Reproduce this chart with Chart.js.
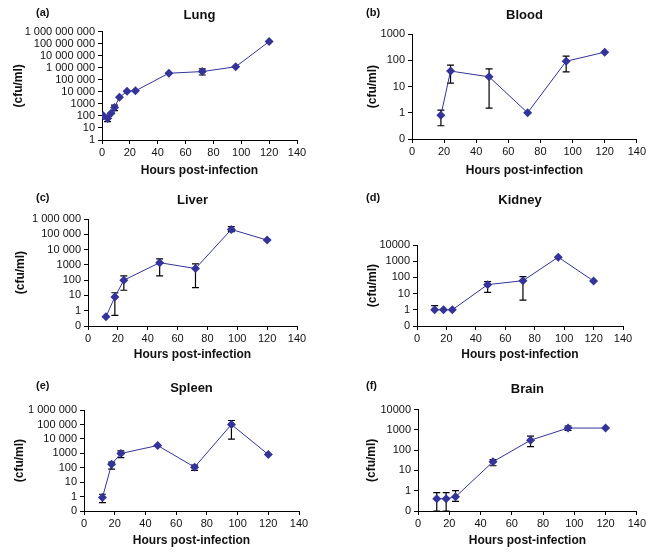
<!DOCTYPE html>
<html>
<head>
<meta charset="utf-8">
<script src="https://cdn.jsdelivr.net/npm/chart.js@4"></script>
<style>
  html, body { margin: 0; padding: 0; background: #fff; }
  #wrap { position: relative; width: 648px; height: 552px; overflow: hidden; }
  #wrap canvas { position: absolute; }
  .tag { position: absolute; font: bold 11px 'Liberation Sans', Arial, sans-serif; color: #111; line-height: 13px; }
</style>
</head>
<body>
<div id="wrap">
  <canvas id="lung"   width="324" height="180" style="left:0;top:0"></canvas>
  <canvas id="blood"  width="324" height="180" style="left:324px;top:0"></canvas>
  <canvas id="liver"  width="324" height="185" style="left:0;top:180px"></canvas>
  <canvas id="kidney" width="324" height="185" style="left:324px;top:180px"></canvas>
  <canvas id="spleen" width="324" height="187" style="left:0;top:365px"></canvas>
  <canvas id="brain"  width="324" height="187" style="left:324px;top:365px"></canvas>
  <div class="tag" style="left:36px;top:6px">(a)</div>
  <div class="tag" style="left:366px;top:6px">(b)</div>
  <div class="tag" style="left:36px;top:191px">(c)</div>
  <div class="tag" style="left:366px;top:191px">(d)</div>
  <div class="tag" style="left:36px;top:379px">(e)</div>
  <div class="tag" style="left:366px;top:379px">(f)</div>
</div>
<script>
// ---- data ----
const hourTicks = [0, 20, 40, 60, 80, 100, 120, 140];

const lungHours = [1, 4, 6.5, 9, 12.5, 18, 24, 48, 72, 96, 120];
const lungCfu   = [105, 60, 165, 490, 3500, 11000, 12000, 350000, 480000, 1200000, 150000000];
const lungLow   = [null, 33, null, 280, null, null, null, null, 250000, null, null];
const lungHigh  = [null, 110, null, 800, null, null, null, null, 800000, null, null];
const lungTicks = [1, 10, 100, 1000, 1e4, 1e5, 1e6, 1e7, 1e8, 1e9];
const lungTickLabels = ['1', '10', '100', '1000', '10 000', '100 000', '1 000 000',
                        '10 000 000', '100 000 000', '1 000 000 000'];

const bloodHours = [18, 24, 48, 72, 96, 120];
const bloodCfu   = [0.8, 39, 23.5, 1, 92, 205];
const bloodLow   = [0.32, 13.5, 1.5, null, 36, null];
const bloodHigh  = [1.27, 66, 47, null, 145, null];
const bloodTicks = [0.1, 1, 10, 100, 1000];
const bloodTickLabels = ['0', '1', '10', '100', '1000'];

const liverHours = [12, 18, 24, 48, 72, 96, 120];
const liverCfu   = [0.4, 8, 100, 1400, 580, 210000, 42000];
const liverLow   = [null, 0.5, 22, 190, 33, 150000, null];
const liverHigh  = [null, 15, 190, 2500, 1170, 320000, null];

const kidneyHours = [12, 18, 24, 48, 72, 96, 120];
const kidneyCfu   = [1, 1, 1, 36, 63, 1800, 60];
const kidneyLow   = [null, null, null, 12, 4, null, null];
const kidneyHigh  = [1.8, null, null, 55, 112, null, null];

const spleenHours = [12, 18, 24, 48, 72, 96, 120];
const spleenCfu   = [0.85, 178, 980, 3500, 110, 100000, 830];
const spleenLow   = [0.38, 80, 510, null, 65, 9800, null];
const spleenHigh  = [1.45, 245, 1500, null, 150, 190000, null];

const brainHours = [12, 18, 24, 48, 72, 96, 120];
const brainCfu   = [0.4, 0.4, 0.5, 27, 310, 1230, 1230];
const brainLow   = [0.1, 0.1, 0.3, 17, 150, 930, null];
const brainHigh  = [0.8, 0.8, 1.0, 34, 490, 1550, null];

const millionTicks = [0.1, 1, 10, 100, 1000, 1e4, 1e5, 1e6];
const millionTickLabels = ['0', '1', '10', '100', '1000', '10 000', '100 000', '1 000 000'];
const tenKTicks = [0.1, 1, 10, 100, 1000, 1e4];
const tenKTickLabels = ['0', '1', '10', '100', '1000', '10000'];

// ---- shared defaults ----
Chart.defaults.font.family = "'Liberation Sans', Arial, sans-serif";
Chart.defaults.font.size = 11;
Chart.defaults.color = '#111';

const NAVY = '#333399';

// Error bars drawn through the chart's own scales
const errorBars = {
    id: 'errorBars',
    beforeDatasetsDraw(chart, args, opts) {
        const { ctx, chartArea, scales: { x, y } } = chart;
        const hours = opts.hours, values = opts.values;
        ctx.save();
        ctx.beginPath();
        ctx.rect(chartArea.left, chartArea.top - 6, chartArea.width, chartArea.height + 6);
        ctx.clip();
        ctx.strokeStyle = '#000';
        ctx.lineWidth = 1.2;
        hours.forEach((h, i) => {
            const lo = opts.low[i], hi = opts.high[i];
            if (lo == null && hi == null) return;
            const px = x.getPixelForValue(h);
            const yLo = y.getPixelForValue(lo == null ? values[i] : lo);
            const yHi = y.getPixelForValue(hi == null ? values[i] : hi);
            ctx.beginPath();
            ctx.moveTo(px, yLo); ctx.lineTo(px, yHi);
            if (hi != null) { ctx.moveTo(px - 3.5, yHi); ctx.lineTo(px + 3.5, yHi); }
            if (lo != null) { ctx.moveTo(px - 3.5, yLo); ctx.lineTo(px + 3.5, yLo); }
            ctx.stroke();
        });
        ctx.restore();
    }
};

function buildPanel(p) {
    return new Chart(document.getElementById(p.id), {
        type: 'scatter',
        data: {
            datasets: [{
                data: p.hours.map((h, i) => ({ x: h, y: p.cfu[i] })),
                showLine: true,
                borderColor: NAVY,
                borderWidth: 1,
                backgroundColor: NAVY,
                pointStyle: 'rectRot',
                pointRadius: 4.5,
                pointBorderWidth: 0
            }]
        },
        options: {
            responsive: false,
            animation: false,
            layout: { padding: p.pad },
            plugins: {
                legend: { display: false },
                tooltip: { enabled: false },
                title: {
                    display: true, text: p.title, fullSize: false,
                    font: { size: 13, weight: 'bold' }, color: '#111',
                    padding: { top: 0, bottom: p.titleGap }
                },
                errorBars: { hours: p.hours, values: p.cfu, low: p.low, high: p.high }
            },
            scales: {
                x: {
                    type: 'linear', min: 0, max: 140,
                    afterBuildTicks: s => { s.ticks = hourTicks.map(v => ({ value: v })); },
                    afterFit: s => { s.height = p.xHeight; },
                    ticks: { padding: 2, maxRotation: 0, autoSkip: false, color: '#111' },
                    grid: { display: true, drawOnChartArea: false, drawTicks: true, tickLength: 4, color: '#000' },
                    border: { display: true, color: '#000', width: 1 },
                    title: { display: true, text: 'Hours post-infection', font: { size: 12, weight: 'bold' },
                             color: '#111', padding: 0 }
                },
                y: {
                    type: 'logarithmic', min: p.yTicks[0], max: p.yTicks[p.yTicks.length - 1],
                    afterBuildTicks: s => { s.ticks = p.yTicks.map(v => ({ value: v })); },
                    afterFit: s => { s.width = p.yWidth; },
                    ticks: { padding: 3, autoSkip: false, color: '#111', callback: (v, i) => p.yLabels[i] },
                    grid: { display: true, drawOnChartArea: false, drawTicks: true, tickLength: 4, color: '#000' },
                    border: { display: true, color: '#000', width: 1 },
                    title: { display: true, text: '(cfu/ml)', font: { size: 12, weight: 'bold' },
                             color: '#111', padding: 0 }
                }
            }
        },
        plugins: [errorBars]
    });
}

const panels = [
    { id: 'lung', title: 'Lung', hours: lungHours, cfu: lungCfu, low: lungLow, high: lungHigh,
      yTicks: lungTicks, yLabels: lungTickLabels,
      pad: { left: 11, top: 8, right: 27, bottom: 2 }, titleGap: 8, yWidth: 91, xHeight: 38 },
    { id: 'blood', title: 'Blood', hours: bloodHours, cfu: bloodCfu, low: bloodLow, high: bloodHigh,
      yTicks: bloodTicks, yLabels: bloodTickLabels,
      pad: { left: 41, top: 8, right: 11, bottom: 2 }, titleGap: 10.5, yWidth: 47, xHeight: 39 },
    { id: 'liver', title: 'Liver', hours: liverHours, cfu: liverCfu, low: liverLow, high: liverHigh,
      yTicks: millionTicks, yLabels: millionTickLabels,
      pad: { left: 13, top: 13, right: 27, bottom: 3 }, titleGap: 10.5, yWidth: 75, xHeight: 36 },
    { id: 'kidney', title: 'Kidney', hours: kidneyHours, cfu: kidneyCfu, low: kidneyLow, high: kidneyHigh,
      yTicks: tenKTicks, yLabels: tenKTickLabels,
      pad: { left: 41, top: 13, right: 25, bottom: 3 }, titleGap: 36.5, yWidth: 52, xHeight: 36 },
    { id: 'spleen', title: 'Spleen', hours: spleenHours, cfu: spleenCfu, low: spleenLow, high: spleenHigh,
      yTicks: millionTicks, yLabels: millionTickLabels,
      pad: { left: 12, top: 15.5, right: 25, bottom: 4 }, titleGap: 14, yWidth: 72, xHeight: 37 },
    { id: 'brain', title: 'Brain', hours: brainHours, cfu: brainCfu, low: brainLow, high: brainHigh,
      yTicks: tenKTicks, yLabels: tenKTickLabels,
      pad: { left: 40, top: 17, right: 11, bottom: 4 }, titleGap: 12, yWidth: 54, xHeight: 37 }
];

panels.forEach(buildPanel);
</script>
</body>
</html>
